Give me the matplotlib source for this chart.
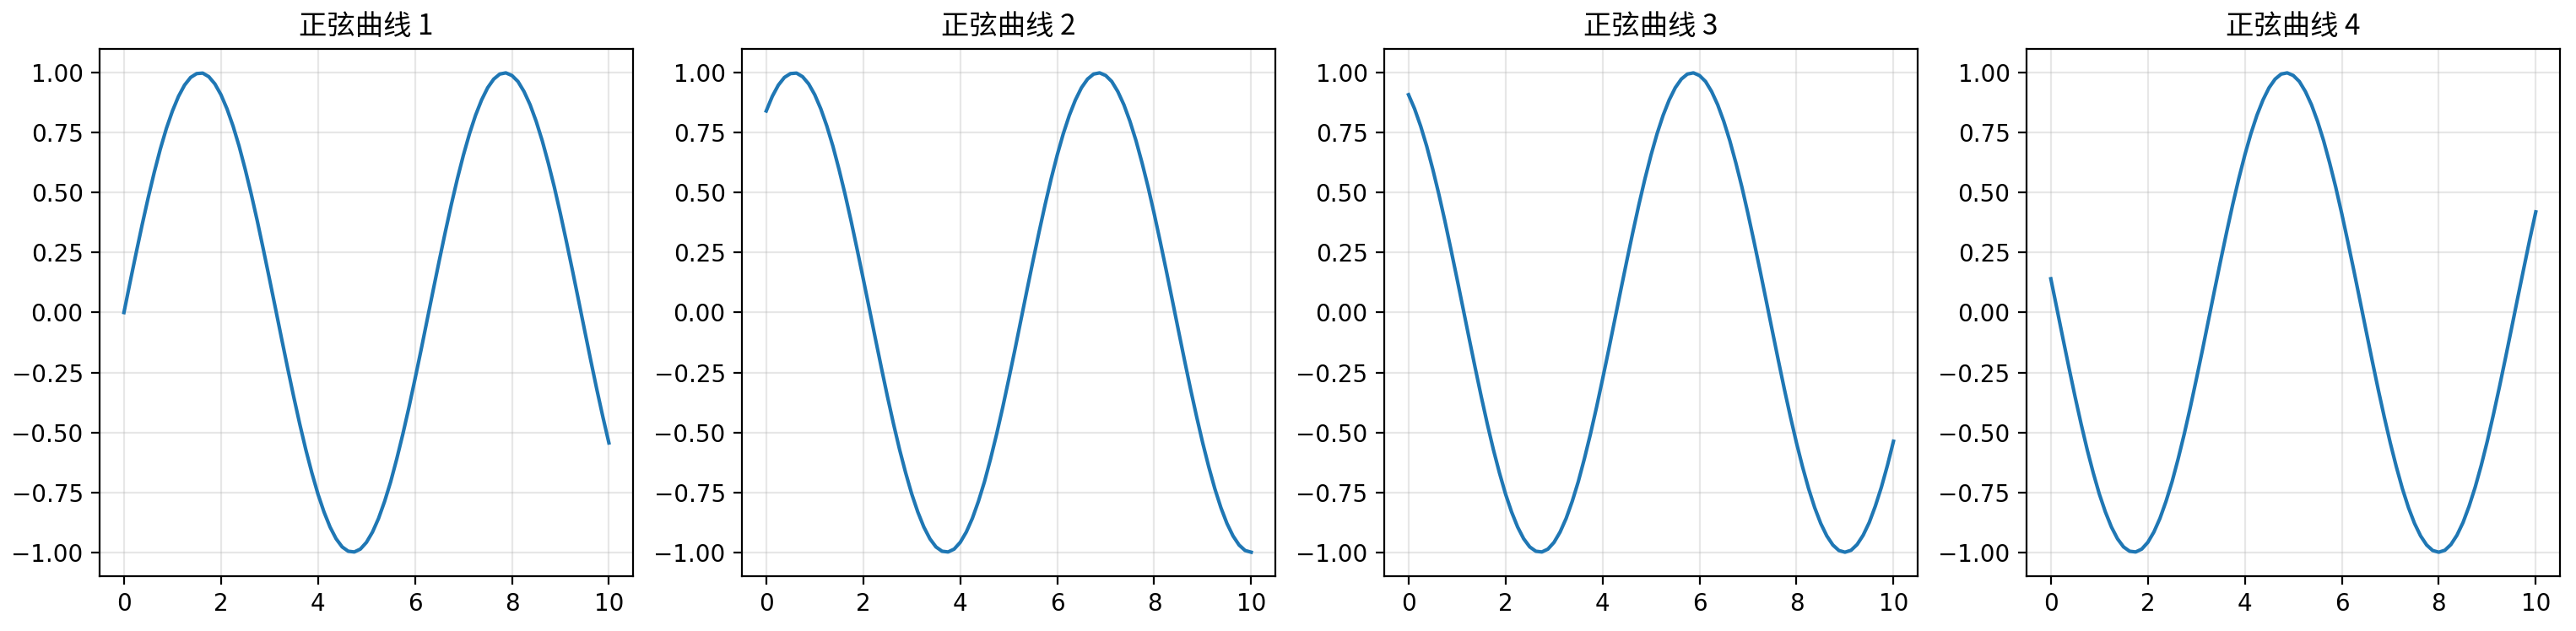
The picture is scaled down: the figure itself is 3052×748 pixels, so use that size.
import matplotlib.pyplot as plt

plt.rcParams['font.family'] = ['Noto Sans CJK SC', 'DejaVu Sans']
plt.rcParams['axes.unicode_minus'] = False

# x positions sampled every 0.125
x = [0.0, 0.125, 0.25, 0.375, 0.5, 0.625, 0.75, 0.875, 1.0, 1.125, 1.25,
     1.375, 1.5, 1.625, 1.75, 1.875, 2.0, 2.125, 2.25, 2.375, 2.5, 2.625,
     2.75, 2.875, 3.0, 3.125, 3.25, 3.375, 3.5, 3.625, 3.75, 3.875, 4.0,
     4.125, 4.25, 4.375, 4.5, 4.625, 4.75, 4.875, 5.0, 5.125, 5.25, 5.375,
     5.5, 5.625, 5.75, 5.875, 6.0, 6.125, 6.25, 6.375, 6.5, 6.625, 6.75,
     6.875, 7.0, 7.125, 7.25, 7.375, 7.5, 7.625, 7.75, 7.875, 8.0, 8.125,
     8.25, 8.375, 8.5, 8.625, 8.75, 8.875, 9.0, 9.125, 9.25, 9.375, 9.5,
     9.625, 9.75, 9.875, 10.0]

y1 = [0.000, 0.125, 0.247, 0.366, 0.479, 0.585, 0.682, 0.768, 0.841, 0.902,
      0.949, 0.981, 0.997, 0.999, 0.984, 0.954, 0.909, 0.850, 0.778, 0.694,
      0.598, 0.494, 0.382, 0.263, 0.141, 0.017, -0.108, -0.231, -0.351,
      -0.465, -0.572, -0.669, -0.757, -0.832, -0.895, -0.944, -0.978, -0.996,
      -0.999, -0.987, -0.959, -0.916, -0.859, -0.788, -0.706, -0.611, -0.508,
      -0.397, -0.279, -0.158, -0.033, 0.092, 0.215, 0.335, 0.450, 0.558,
      0.657, 0.746, 0.823, 0.887, 0.938, 0.974, 0.995, 1.000, 0.989, 0.964,
      0.922, 0.867, 0.798, 0.717, 0.624, 0.523, 0.412, 0.295, 0.174, 0.050,
      -0.075, -0.199, -0.320, -0.435, -0.544]
y2 = [0.841, 0.902, 0.949, 0.981, 0.997, 0.999, 0.984, 0.954, 0.909, 0.850,
      0.778, 0.694, 0.598, 0.494, 0.382, 0.263, 0.141, 0.017, -0.108, -0.231,
      -0.351, -0.465, -0.572, -0.669, -0.757, -0.832, -0.895, -0.944, -0.978,
      -0.996, -0.999, -0.987, -0.959, -0.916, -0.859, -0.788, -0.706, -0.611,
      -0.508, -0.397, -0.279, -0.158, -0.033, 0.092, 0.215, 0.335, 0.450,
      0.558, 0.657, 0.746, 0.823, 0.887, 0.938, 0.974, 0.995, 1.000, 0.989,
      0.964, 0.922, 0.867, 0.798, 0.717, 0.624, 0.523, 0.412, 0.295, 0.174,
      0.050, -0.075, -0.199, -0.320, -0.435, -0.544, -0.644, -0.735, -0.814,
      -0.880, -0.932, -0.970, -0.993, -1.000]
y3 = [0.909, 0.850, 0.778, 0.694, 0.598, 0.494, 0.382, 0.263, 0.141, 0.017,
      -0.108, -0.231, -0.351, -0.465, -0.572, -0.669, -0.757, -0.832, -0.895,
      -0.944, -0.978, -0.996, -0.999, -0.987, -0.959, -0.916, -0.859, -0.788,
      -0.706, -0.611, -0.508, -0.397, -0.279, -0.158, -0.033, 0.092, 0.215,
      0.335, 0.450, 0.558, 0.657, 0.746, 0.823, 0.887, 0.938, 0.974, 0.995,
      1.000, 0.989, 0.964, 0.922, 0.867, 0.798, 0.717, 0.624, 0.523, 0.412,
      0.295, 0.174, 0.050, -0.075, -0.199, -0.320, -0.435, -0.544, -0.644,
      -0.735, -0.814, -0.880, -0.932, -0.970, -0.993, -1.000, -0.992, -0.968,
      -0.929, -0.876, -0.808, -0.729, -0.638, -0.537]
y4 = [0.141, 0.017, -0.108, -0.231, -0.351, -0.465, -0.572, -0.669, -0.757,
      -0.832, -0.895, -0.944, -0.978, -0.996, -0.999, -0.987, -0.959, -0.916,
      -0.859, -0.788, -0.706, -0.611, -0.508, -0.397, -0.279, -0.158, -0.033,
      0.092, 0.215, 0.335, 0.450, 0.558, 0.657, 0.746, 0.823, 0.887, 0.938,
      0.974, 0.995, 1.000, 0.989, 0.964, 0.922, 0.867, 0.798, 0.717, 0.624,
      0.523, 0.412, 0.295, 0.174, 0.050, -0.075, -0.199, -0.320, -0.435,
      -0.544, -0.644, -0.735, -0.814, -0.880, -0.932, -0.970, -0.993, -1.000,
      -0.992, -0.968, -0.929, -0.876, -0.808, -0.729, -0.638, -0.537, -0.427,
      -0.311, -0.190, -0.066, 0.059, 0.182, 0.304, 0.420]

titles = ["正弦曲线 1", "正弦曲线 2", "正弦曲线 3", "正弦曲线 4"]
series = [y1, y2, y3, y4]

fig, axes = plt.subplots(1, 4, figsize=(15.26, 3.74), dpi=200)
for ax, y, title in zip(axes, series, titles):
    ax.plot(x, y, color="#1f77b4", linewidth=1.5)
    ax.set_title(title, fontsize=12)
    ax.set_xlim(-0.5, 10.5)
    ax.set_ylim(-1.1, 1.1)
    ax.set_yticks([-1.0, -0.75, -0.5, -0.25, 0.0, 0.25, 0.5, 0.75, 1.0])
    ax.set_yticklabels(["−1.00", "−0.75", "−0.50", "−0.25", "0.00",
                        "0.25", "0.50", "0.75", "1.00"], family=['DejaVu Sans'])
    ax.set_xticks([0, 2, 4, 6, 8, 10])
    ax.set_xticklabels(["0", "2", "4", "6", "8", "10"], family=['DejaVu Sans'])
    ax.grid(True, alpha=0.3)

plt.subplots_adjust(left=0.0387, right=0.9938, top=0.9225, bottom=0.0869,
                    wspace=0.204)
plt.savefig("out.png", dpi=200)
